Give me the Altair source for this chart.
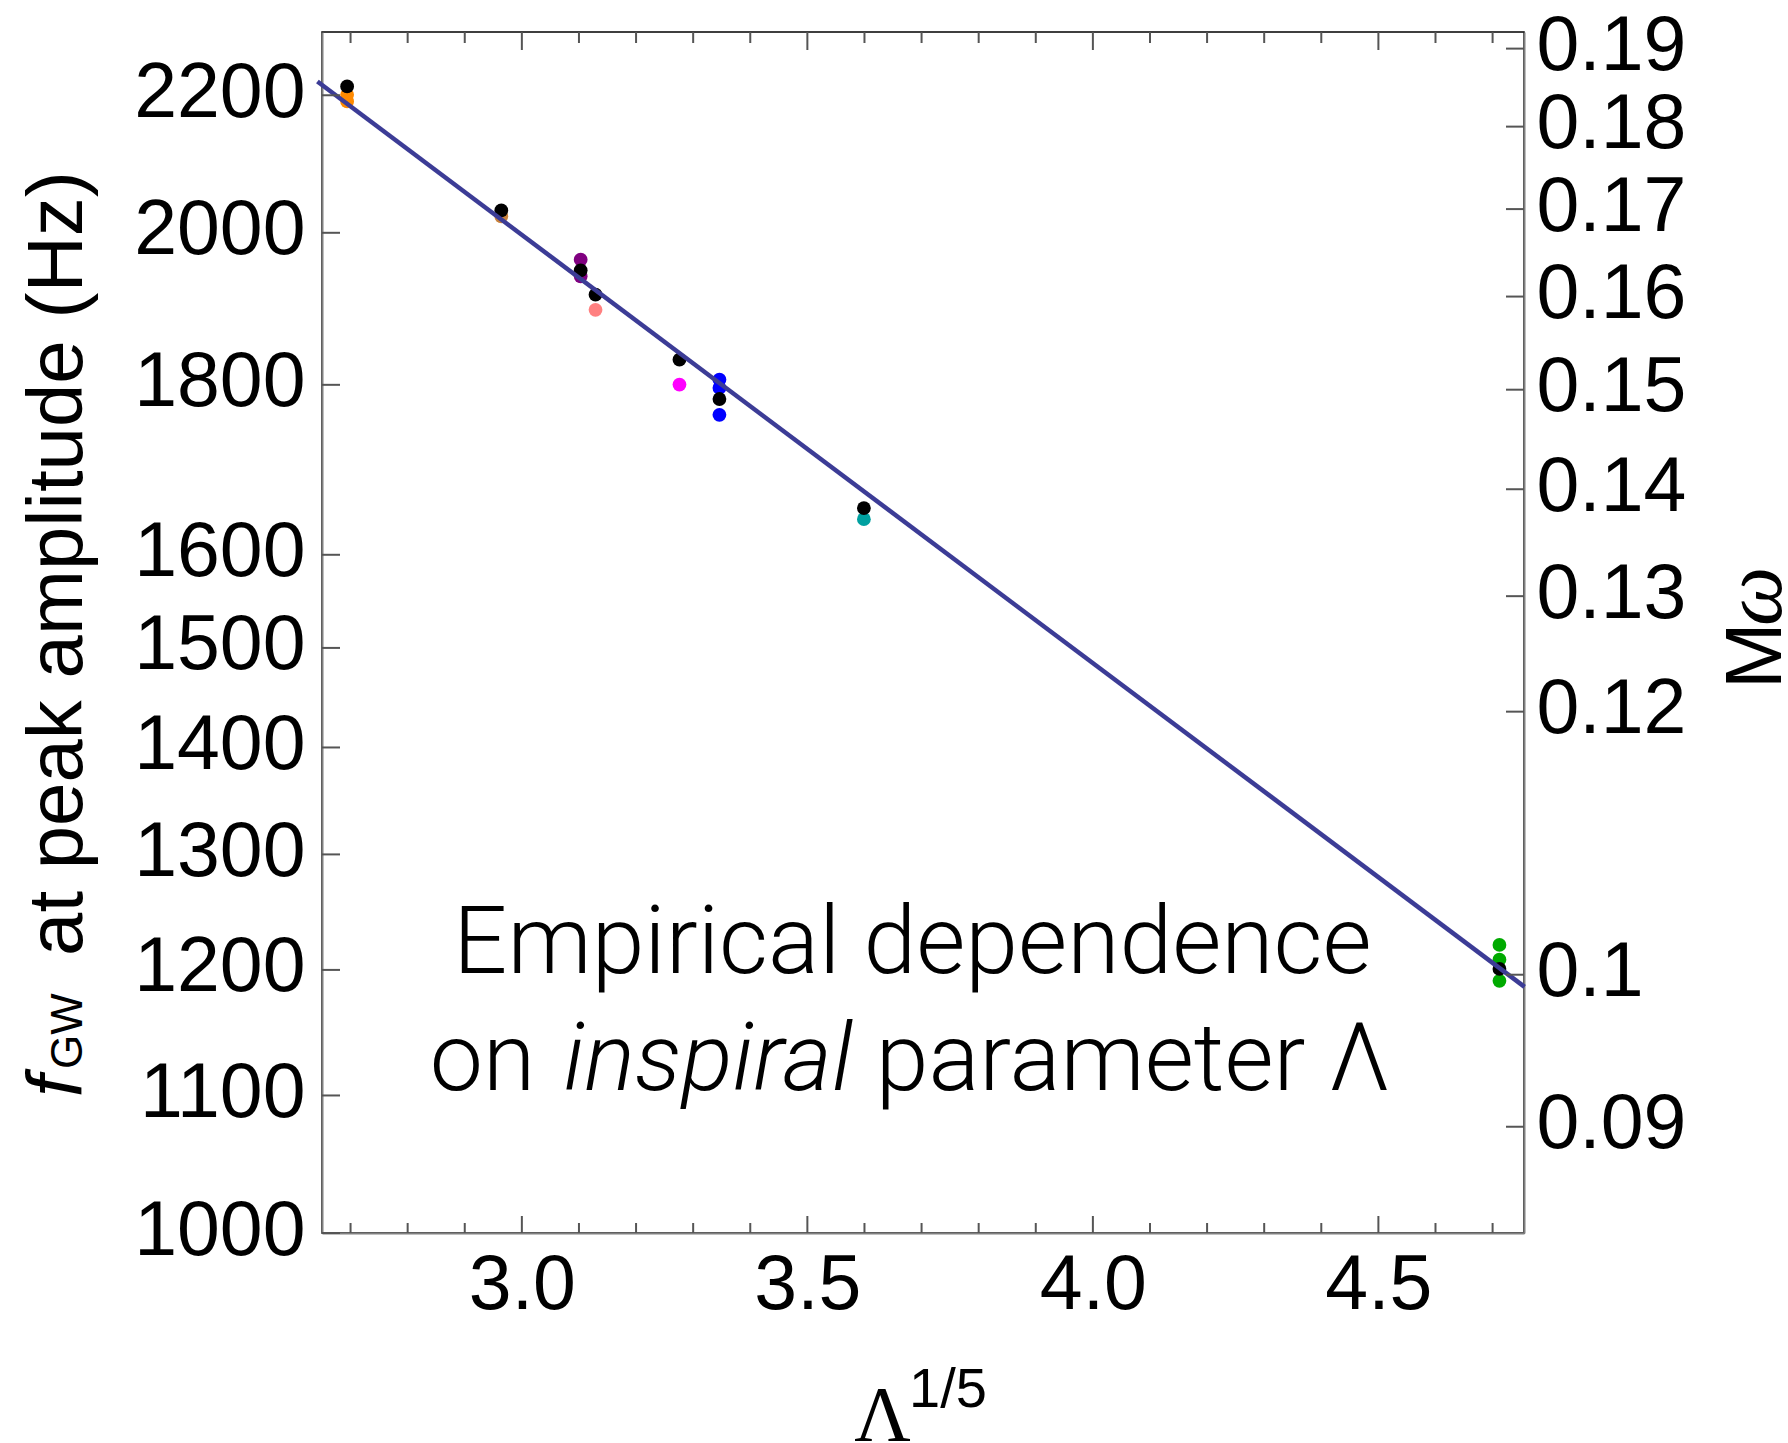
import altair as alt
import pandas as pd

# ---------------- data ----------------
pt_lam = [2.694, 2.694, 2.964, 3.103, 3.103, 3.129, 3.276, 3.346, 3.346, 3.346, 3.599,
          4.712, 4.712, 4.712,
          2.694, 2.964, 3.103, 3.129, 3.276, 3.346, 3.599, 4.712]
pt_f = [2200.7, 2190.6, 2022.9, 1963.1, 1940.6, 1896.0, 1800.3, 1806.4, 1796.1, 1763.0, 1640.0,
        1221.0, 1208.5, 1191.0,
        2213.5, 2031.3, 1948.7, 1916.0, 1831.7, 1782.4, 1652.7, 1200.8]
pt_color = ["#ff8a00", "#ff8a00", "#c8823c", "#800080", "#800080", "#ff8080", "#ff00ff",
            "#0000ff", "#0000ff", "#0000ff", "#00a0a0",
            "#00aa00", "#00aa00", "#00aa00",
            "#000000", "#000000", "#000000", "#000000", "#000000", "#000000", "#000000", "#000000"]

fit_lam = [2.642, 4.756]
fit_f = [2221.0, 1186.0]

x_major = [3.0, 3.5, 4.0, 4.5]
x_minor = [2.7, 2.8, 2.9, 3.1, 3.2, 3.3, 3.4, 3.6, 3.7, 3.8, 3.9, 4.1, 4.2, 4.3, 4.4, 4.6, 4.7]
f_ticks = [1000, 1100, 1200, 1300, 1400, 1500, 1600, 1800, 2000, 2200]
mw_ticks = [0.09, 0.1, 0.12, 0.13, 0.14, 0.15, 0.16, 0.17, 0.18, 0.19]

# ---------------- layout ----------------
W, H = 1202, 1201
PAD = {"left": 322, "top": 32, "right": 1788 - 322 - W, "bottom": 1443 - 32 - H}
TICK_COL = "#555555"

xs = alt.Scale(domain=[2.650, 4.755], nice=False, zero=False)
ys = alt.Scale(type="log", domain=[1000, 2298.6], nice=False)
ms = alt.Scale(type="log", domain=[0.08361, 0.1922], nice=False)

xaxis = alt.Axis(orient="bottom", values=x_major, format=".1f", title=None, ticks=False,
                 labelPadding=14, grid=False)
yaxis = alt.Axis(orient="left", values=f_ticks, format="d", title=None, ticks=False,
                 labelPadding=17, labelOffset=-2, grid=False)
maxis = alt.Axis(orient="right", values=mw_ticks, format="~g", title=None, ticks=False,
                 labelPadding=12, labelOffset=-2, grid=False)

pts = pd.DataFrame({"lam": pt_lam, "f": pt_f, "c": pt_color})
fit = pd.DataFrame({"lam": fit_lam, "f": fit_f})
xmaj = pd.DataFrame({"lam": x_major})
xmin = pd.DataFrame({"lam": x_minor})
fdf = pd.DataFrame({"f": f_ticks})
mdf = pd.DataFrame({"mw": mw_ticks})
one = pd.DataFrame({"k": [0]})

X = lambda: alt.X("lam:Q", scale=xs, axis=xaxis)
Y = lambda: alt.Y("f:Q", scale=ys, axis=yaxis)

points = alt.Chart(pts).mark_circle(size=190, opacity=1).encode(
    x=X(), y=Y(), color=alt.Color("c:N", scale=None))
line = alt.Chart(fit).mark_line(color="#3c3c96", strokeWidth=4.5).encode(x=X(), y=Y())

bmaj = alt.Chart(xmaj).mark_rule(color=TICK_COL, strokeWidth=2).encode(
    x=X(), y=alt.value(H), y2=alt.value(H - 17))
bmin = alt.Chart(xmin).mark_rule(color=TICK_COL, strokeWidth=2).encode(
    x=X(), y=alt.value(H), y2=alt.value(H - 10))
tmaj = alt.Chart(xmaj).mark_rule(color=TICK_COL, strokeWidth=2).encode(
    x=X(), y=alt.value(0), y2=alt.value(18))
tmin = alt.Chart(xmin).mark_rule(color=TICK_COL, strokeWidth=2).encode(
    x=X(), y=alt.value(0), y2=alt.value(11))
lt = alt.Chart(fdf).mark_rule(color=TICK_COL, strokeWidth=2).encode(
    y=Y(), x=alt.value(0), x2=alt.value(18))


def txt(s, x, y, size, font="Liberation Sans", style="normal", weight="normal",
        angle=0, align="left"):
    return alt.Chart(one).mark_text(
        text=s, font=font, fontSize=size, fontStyle=style, fontWeight=weight,
        angle=angle, align=align, baseline="alphabetic", color="black"
    ).encode(x=alt.value(x), y=alt.value(y))


ANN = "Roboto"
texts = [
    # annotation
    txt("Empirical dependence", 590.5, 941, 95, font=ANN, weight=300, align="center"),
    txt("on", 160.5, 1058, 95, font=ANN, weight=300, align="center"),
    txt("inspiral", 386, 1058, 95, font=ANN, weight=300, style="italic", align="center"),
    txt("parameter Λ", 811, 1058, 95, font=ANN, weight=300, align="center"),
    # left axis title
    txt("f", -240, 1065, 78, style="italic", angle=270),
    txt("GW", -240, 1037, 44, angle=270),
    txt("at peak amplitude (Hz)", -240, 924, 78, angle=270),
    # bottom axis title
    txt("Λ", 560.5, 1408, 78, font="Liberation Serif", align="center"),
    txt("1/5", 587, 1375, 56),
    # right axis title
    txt("M", 1459, 657, 80, angle=270),
    txt("ω", 1459, 594, 84, font="Liberation Serif", style="italic", angle=270),
]

left = alt.layer(points, line, bmaj, bmin, tmaj, tmin, lt, *texts)

right = alt.Chart(mdf).mark_rule(color=TICK_COL, strokeWidth=2).encode(
    y=alt.Y("mw:Q", scale=ms, axis=maxis), x=alt.value(W - 18), x2=alt.value(W))

chart = (
    alt.layer(left, right)
    .resolve_scale(y="independent")
    .properties(width=W, height=H, padding=PAD,
                autosize=alt.AutoSizeParams(type="none"), background="white")
    .configure_view(stroke="black", strokeWidth=1.5)
    .configure_axis(labelFont="Liberation Sans", labelFontSize=77, labelColor="black",
                    domainColor="#808080", domainWidth=2, grid=False)
)

chart.save("out.html", embed_options={"renderer": "svg", "actions": False})
